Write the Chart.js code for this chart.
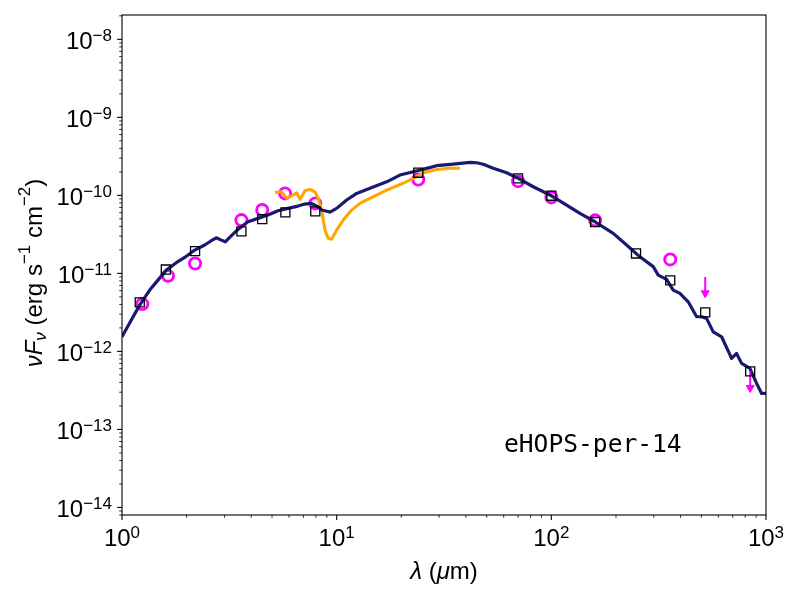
<!DOCTYPE html>
<html>
<head>
<meta charset="utf-8">
<script src="https://cdn.jsdelivr.net/npm/chart.js@4.4.0/dist/chart.umd.min.js"></script>
<style>
    html, body { margin: 0; padding: 0; background: #fff; }
    canvas { display: block; }
</style>
</head>
<body>
<canvas id="sed_chart" width="800" height="600"></canvas>
<script>
// model SED (navy line)
var model_wave = [1.00, 1.105, 1.209, 1.346, 1.471, 1.609, 1.790, 1.959, 2.181, 2.428,
                  2.606, 2.750, 2.901, 3.028, 3.174, 3.470, 3.863, 4.299, 4.786, 5.329,
                  5.932, 6.603, 7.096, 7.616, 8.184, 8.514, 9.306, 10.0, 11.13, 12.39,
                  14.29, 17.10, 19.71, 22.74, 26.26, 29.23, 34.93, 41.78, 44.88, 48.18,
                  53.62, 61.91, 70.13, 82.36, 100.3, 117.8, 135.9, 159.7, 194.2, 224.2,
                  258.6, 298.3, 314.8, 344.4, 369.7, 397.2, 434.2, 475.2, 501.2, 528.9,
                  567.7, 621.3, 691.6, 729.5, 769.8, 841.4, 904.2, 954, 1000];
var model_flux = [1.54e-12, 2.52e-12, 3.92e-12, 6.11e-12, 8.20e-12, 1.10e-11, 1.37e-11, 1.60e-11, 1.99e-11, 2.31e-11,
                  2.62e-11, 2.86e-11, 2.67e-11, 2.54e-11, 2.90e-11, 3.66e-11, 4.59e-11, 5.07e-11, 5.59e-11, 6.35e-11,
                  6.81e-11, 7.29e-11, 7.74e-11, 7.89e-11, 7.14e-11, 6.48e-11, 6.11e-11, 6.81e-11, 8.71e-11, 1.06e-10,
                  1.23e-10, 1.49e-10, 1.82e-10, 2.01e-10, 2.22e-10, 2.40e-10, 2.52e-10, 2.65e-10, 2.62e-10, 2.50e-10,
                  2.22e-10, 1.95e-10, 1.65e-10, 1.29e-10, 9.88e-11, 7.51e-11, 5.88e-11, 4.59e-11, 3.26e-11, 2.31e-11,
                  1.63e-11, 1.22e-11, 9.51e-12, 8.38e-12, 6.11e-12, 5.54e-12, 4.32e-12, 2.78e-12, 2.78e-12, 2.65e-12,
                  1.78e-12, 1.54e-12, 8.13e-13, 9.42e-13, 7.02e-13, 6.05e-13, 3.89e-13, 2.89e-13, 2.89e-13];

// IRS spectrum (orange line)
var spec_wave = [5.16, 5.54, 5.85, 6.28, 6.51, 6.75, 7.12, 7.51, 7.92, 8.21, 8.51, 8.82, 9.14,
                 9.48, 10.0, 10.73, 11.75, 12.84, 14.29, 17.10, 20.42, 22.74, 25.32, 29.23, 33.71, 37.52];
var spec_flux = [1.09e-10, 1.11e-10, 9.15e-11, 1.01e-10, 1.08e-10, 8.89e-11, 1.15e-10, 1.19e-10, 1.11e-10,
                 9.15e-11, 6.48e-11, 3.59e-11, 2.81e-11, 2.73e-11, 3.59e-11, 4.82e-11, 6.48e-11, 7.89e-11,
                 9.15e-11, 1.17e-10, 1.43e-10, 1.65e-10, 1.95e-10, 2.15e-10, 2.22e-10, 2.22e-10];

// model photometry (black squares)
var phot_wave = [1.21, 1.60, 2.19, 3.6, 4.5, 5.77, 7.95, 24, 70, 100, 160, 248, 358, 521, 844];
var phot_flux = [4.25e-12, 1.12e-11, 1.93e-11, 3.45e-11, 4.97e-11, 6.05e-11, 6.24e-11, 1.95e-10,
                 1.65e-10, 9.9e-11, 4.55e-11, 1.8e-11, 8.13e-12, 3.16e-12, 5.55e-13];

// observed photometry (magenta circles)
var obs_wave = [1.244, 1.638, 2.19, 3.6, 4.5, 5.75, 7.95, 24, 70, 100, 160, 358];
var obs_flux = [4.04e-12, 9.3e-12, 1.34e-11, 4.82e-11, 6.48e-11, 1.06e-10, 7.89e-11, 1.6e-10,
                1.52e-10, 9.42e-11, 4.78e-11, 1.51e-11];

// upper limits (magenta arrows)
var ul_wave = [521, 844];
var ul_flux = [9.0e-12, 5.5e-13];
var ul_arrow_factor = 0.62;

// axis limits and tick decades
var x_min = 1, x_max = 1000;
var y_min = 8e-15, y_max = 2.05e-8;
var x_tick_exps = [0, 1, 2, 3];
var y_tick_exps = [-14, -13, -12, -11, -10, -9, -8];
var minor_subs = [2, 3, 4, 5, 6, 7, 8, 9];

var label_text = "eHOPS-per-14";

function to_points(xs, ys){
    return xs.map(function(x, i){ return {x: x, y: ys[i]}; });
}

function font_of(r){
    return (r.italic ? "italic " : "") + r.size + "px " + (r.family || '"Liberation Sans"');
}

function draw_runs(ctx, runs, x, y, align){
    var total = 0;
    runs.forEach(function(r){
        ctx.font = font_of(r);
        r.w = ctx.measureText(r.t).width;
        total += r.w;
    });
    var cx = x;
    if (align == "right") cx = x - total;
    if (align == "center") cx = x - total / 2;
    runs.forEach(function(r){
        ctx.font = font_of(r);
        ctx.fillText(r.t, cx, y + (r.dy || 0));
        cx += r.w;
    });
}

function exp_label(e){
    var txt = (e < 0 ? "\u2212" : "") + Math.abs(e);
    return [{t: "10", size: 24}, {t: txt, size: 17, dy: -7.5}];
}

// frame, ticks, labels, titles (matplotlib look)
var frame_plugin = {
    id: "frame_plugin",
    beforeDraw: function(chart){
        var ctx = chart.ctx;
        ctx.save();
        ctx.fillStyle = "#ffffff";
        ctx.fillRect(0, 0, chart.width, chart.height);
        ctx.restore();
    },
    afterDraw: function(chart){
        var ctx = chart.ctx;
        var a = chart.chartArea;
        var xs = chart.scales.x;
        var ys = chart.scales.y;
        ctx.save();
        ctx.strokeStyle = "#000";
        ctx.fillStyle = "#000";
        ctx.textBaseline = "alphabetic";

        // ticks
        function tick_x(v, len, lw){
            var p = xs.getPixelForValue(v);
            ctx.lineWidth = lw;
            ctx.beginPath(); ctx.moveTo(p, a.bottom); ctx.lineTo(p, a.bottom + len); ctx.stroke();
        }
        function tick_y(v, len, lw){
            var p = ys.getPixelForValue(v);
            ctx.lineWidth = lw;
            ctx.beginPath(); ctx.moveTo(a.left, p); ctx.lineTo(a.left - len, p); ctx.stroke();
        }
        for (var e = x_tick_exps[0] - 1; e <= x_tick_exps[x_tick_exps.length - 1]; e++){
            minor_subs.forEach(function(s){
                var v = s * Math.pow(10, e);
                if (v >= x_min && v <= x_max) tick_x(v, 2.8, 0.8);
            });
        }
        for (var e2 = y_tick_exps[0] - 1; e2 <= y_tick_exps[y_tick_exps.length - 1]; e2++){
            minor_subs.forEach(function(s){
                var v = s * Math.pow(10, e2);
                if (v >= y_min && v <= y_max) tick_y(v, 2.8, 0.8);
            });
        }
        x_tick_exps.forEach(function(e){
            var v = Math.pow(10, e);
            tick_x(v, 4.9, 1.1);
            draw_runs(ctx, exp_label(e), xs.getPixelForValue(v), a.bottom + 30.7, "center");
        });
        y_tick_exps.forEach(function(e){
            var v = Math.pow(10, e);
            tick_y(v, 4.9, 1.1);
            draw_runs(ctx, exp_label(e), a.left - 10, ys.getPixelForValue(v) + 9.5, "right");
        });

        // frame
        ctx.lineWidth = 1.1;
        ctx.strokeRect(a.left, a.top, a.right - a.left, a.bottom - a.top);

        // axis titles
        draw_runs(ctx, [
            {t: "\u03bb", size: 24, italic: true},
            {t: " (", size: 24},
            {t: "\u03bc", size: 24, italic: true},
            {t: "m)", size: 24}
        ], (a.left + a.right) / 2, 579, "center");

        ctx.save();
        ctx.translate(41.7, 273);
        ctx.rotate(-Math.PI / 2);
        draw_runs(ctx, [
            {t: "\u03bd", size: 24, italic: true},
            {t: "F", size: 24, italic: true},
            {t: "\u03bd", size: 17, italic: true, dy: 4},
            {t: " (erg s", size: 24},
            {t: "\u22121", size: 17, dy: -12},
            {t: " cm", size: 24},
            {t: "\u22122", size: 17, dy: -12},
            {t: ")", size: 24}
        ], 0, 0, "center");
        ctx.restore();

        // source name
        draw_runs(ctx, [{t: label_text, size: 24.6, family: '"DejaVu Sans Mono"'}], 504, 452, "left");
        ctx.restore();
    }
};

var navy = "#191970";
var magenta = "#ff00ff";

var datasets = [{
    label: "Observed",
    data: to_points(obs_wave, obs_flux),
    showLine: false,
    pointStyle: "circle",
    pointRadius: 5.6,
    pointBorderWidth: 2.8,
    borderColor: magenta,
    backgroundColor: "rgba(0,0,0,0)",
    order: 5
}, {
    label: "IRS",
    data: to_points(spec_wave, spec_flux),
    showLine: true,
    borderColor: "#ffa500",
    borderWidth: 3,
    pointRadius: 0,
    tension: 0,
    borderJoinStyle: "round",
    order: 4
}, {
    label: "Model",
    data: to_points(model_wave, model_flux),
    showLine: true,
    borderColor: navy,
    borderWidth: 3.2,
    pointRadius: 0,
    tension: 0,
    borderJoinStyle: "round",
    order: 3
}, {
    label: "Model photometry",
    data: to_points(phot_wave, phot_flux),
    showLine: false,
    pointStyle: "rect",
    pointRadius: 6.4,
    pointBorderWidth: 1.3,
    borderColor: "#000",
    backgroundColor: "rgba(0,0,0,0)",
    order: 1
}];

// upper limit arrows: shaft + head
ul_wave.forEach(function(w, i){
    datasets.push({
        label: "Upper limit " + i,
        data: [{x: w, y: ul_flux[i]}, {x: w, y: ul_flux[i] * ul_arrow_factor}],
        showLine: true,
        borderColor: magenta,
        borderWidth: 2,
        pointRadius: 0,
        order: 2
    });
});
datasets.push({
    label: "Upper limit heads",
    data: to_points(ul_wave, ul_flux.map(function(f){ return f * ul_arrow_factor; })),
    showLine: false,
    pointStyle: "triangle",
    pointRotation: 180,
    pointRadius: 4.6,
    borderColor: magenta,
    backgroundColor: magenta,
    pointBorderWidth: 1,
    order: 2
});

new Chart(document.getElementById("sed_chart"), {
    type: "scatter",
    data: { datasets: datasets },
    options: {
        responsive: false,
        animation: false,
        devicePixelRatio: 1,
        layout: { padding: { left: 122, right: 34, top: 15, bottom: 85 } },
        scales: {
            x: { type: "logarithmic", min: x_min, max: x_max, display: false },
            y: { type: "logarithmic", min: y_min, max: y_max, display: false }
        },
        plugins: {
            legend: { display: false },
            tooltip: { enabled: false }
        }
    },
    plugins: [frame_plugin]
});
</script>
</body>
</html>
